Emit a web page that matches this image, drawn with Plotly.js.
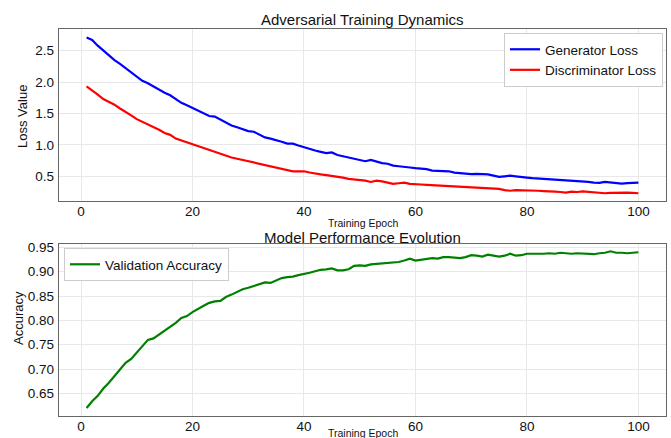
<!DOCTYPE html>
<html>
<head>
<meta charset="utf-8">
<script src="https://cdn.plot.ly/plotly-3.0.1.min.js"></script>
<style>html,body{margin:0;padding:0;background:#fff;}#chart{width:671px;height:438px;}</style>
</head>
<body>
<div id="chart"></div>
<script>
const epochs = Array.from({length: 100}, (_, i) => i + 1);

const generatorLoss = [
  2.71, 2.67, 2.58, 2.50, 2.43, 2.35, 2.29, 2.22, 2.15, 2.09,
  2.02, 1.98, 1.93, 1.87, 1.83, 1.79, 1.73, 1.67, 1.63, 1.59,
  1.54, 1.50, 1.46, 1.45, 1.40, 1.35, 1.31, 1.28, 1.25, 1.22,
  1.21, 1.16, 1.12, 1.10, 1.08, 1.05, 1.02, 1.02, 0.99, 0.96,
  0.93, 0.91, 0.89, 0.87, 0.88, 0.84, 0.82, 0.80, 0.78, 0.77,
  0.74, 0.76, 0.73, 0.71, 0.70, 0.67, 0.66, 0.655, 0.64, 0.63,
  0.62, 0.615, 0.59, 0.59, 0.585, 0.58, 0.56, 0.55, 0.545, 0.535,
  0.54, 0.535, 0.53, 0.51, 0.49, 0.50, 0.51, 0.50, 0.485, 0.48,
  0.47, 0.465, 0.45, 0.455, 0.45, 0.44, 0.43, 0.43, 0.42, 0.42,
  0.41, 0.40, 0.395, 0.41, 0.40, 0.39, 0.385, 0.39, 0.395, 0.40
];

const discriminatorLoss = [
  1.93, 1.87, 1.80, 1.73, 1.69, 1.64, 1.58, 1.53, 1.47, 1.41,
  1.37, 1.32, 1.28, 1.24, 1.19, 1.16, 1.10, 1.07, 1.04, 1.00,
  0.97, 0.95, 0.92, 0.89, 0.86, 0.83, 0.80, 0.78, 0.76, 0.74,
  0.72, 0.70, 0.68, 0.66, 0.65, 0.62, 0.61, 0.58, 0.58, 0.58,
  0.56, 0.54, 0.53, 0.52, 0.51, 0.49, 0.48, 0.46, 0.45, 0.45,
  0.43, 0.41, 0.43, 0.42, 0.40, 0.38, 0.39, 0.40, 0.38, 0.37,
  0.37, 0.365, 0.36, 0.355, 0.34, 0.335, 0.33, 0.325, 0.33, 0.325,
  0.32, 0.31, 0.30, 0.30, 0.30, 0.28, 0.27, 0.28, 0.28, 0.275,
  0.27, 0.27, 0.265, 0.265, 0.255, 0.25, 0.24, 0.255, 0.25, 0.26,
  0.25, 0.24, 0.23, 0.23, 0.235, 0.24, 0.245, 0.24, 0.235, 0.23
];

const validationAccuracy = [
  0.620, 0.634, 0.645, 0.660, 0.672, 0.686, 0.698, 0.713, 0.721, 0.734,
  0.746, 0.760, 0.763, 0.771, 0.780, 0.787, 0.795, 0.805, 0.809, 0.817,
  0.824, 0.830, 0.836, 0.839, 0.840, 0.848, 0.853, 0.858, 0.864, 0.867,
  0.871, 0.874, 0.878, 0.877, 0.882, 0.887, 0.889, 0.890, 0.893, 0.895,
  0.898, 0.901, 0.904, 0.905, 0.907, 0.903, 0.903, 0.905, 0.912, 0.913,
  0.912, 0.915, 0.916, 0.917, 0.918, 0.919, 0.920, 0.923, 0.927, 0.923,
  0.925, 0.927, 0.928, 0.927, 0.930, 0.930, 0.929, 0.928, 0.930, 0.934,
  0.933, 0.931, 0.935, 0.933, 0.931, 0.933, 0.937, 0.933, 0.934, 0.937,
  0.937, 0.936, 0.937, 0.938, 0.937, 0.939, 0.938, 0.937, 0.938, 0.937,
  0.936, 0.936, 0.938, 0.939, 0.942, 0.939, 0.939, 0.938, 0.939, 0.940
];

const xTicks = [0, 20, 40, 60, 80, 100];

const FONT = 'Liberation Sans, Arial, sans-serif';

const traces = [
  {x: epochs, y: generatorLoss, type: 'scatter', mode: 'lines', name: 'Generator Loss',
   line: {color: '#0000ff', width: 2.2}, xaxis: 'x', yaxis: 'y', legend: 'legend'},
  {x: epochs, y: discriminatorLoss, type: 'scatter', mode: 'lines', name: 'Discriminator Loss',
   line: {color: '#ff0000', width: 2.2}, xaxis: 'x', yaxis: 'y', legend: 'legend'},
  {x: epochs, y: validationAccuracy, type: 'scatter', mode: 'lines', name: 'Validation Accuracy',
   line: {color: '#008000', width: 2.2}, xaxis: 'x2', yaxis: 'y2', legend: 'legend2'}
];

const axisCommon = {
  showline: true, mirror: true, linecolor: '#666', linewidth: 1.3,
  showgrid: true, gridcolor: '#e8e8e8', gridwidth: 1,
  zeroline: false, ticks: '',
  tickfont: {family: FONT, size: 13.5, color: '#111'}
};
const xAxisCommon = Object.assign({}, axisCommon, {ticklabelstandoff: -3});
const yAxisCommon = Object.assign({}, axisCommon, {ticklabelstandoff: 1});

const L = 59, R = 666, T = 29, B = 416;
const px = v => (v - L) / (R - L);
const py = v => (B - v) / (B - T);

const layout = {
  width: 671, height: 438,
  margin: {l: L, r: 671 - R, t: T, b: 438 - B, pad: 0},
  paper_bgcolor: '#fff', plot_bgcolor: '#fff',
  font: {family: FONT, color: '#111'},
  showlegend: true,
  xaxis: Object.assign({}, xAxisCommon, {domain: [0, 1], anchor: 'y', range: [-3.95, 104.95],
    tickvals: xTicks}),
  yaxis: Object.assign({}, yAxisCommon, {domain: [py(201), 1], anchor: 'x', range: [0.107, 2.845],
    dtick: 0.5, tick0: 0, tickformat: '.1f'}),
  xaxis2: Object.assign({}, xAxisCommon, {domain: [0, 1], anchor: 'y2', range: [-3.95, 104.95],
    tickvals: xTicks}),
  yaxis2: Object.assign({}, yAxisCommon, {domain: [0, py(244)], anchor: 'x2', range: [0.6036, 0.957],
    dtick: 0.05, tick0: 0, tickformat: '.2f'}),
  legend: {x: px(663), y: py(33), xanchor: 'right', yanchor: 'top',
    bgcolor: 'rgba(255,255,255,0.9)', bordercolor: '#cccccc', borderwidth: 1,
    font: {family: FONT, size: 13.5, color: '#111'}, itemwidth: 30, tracegroupgap: 0},
  legend2: {x: px(64), y: py(248), xanchor: 'left', yanchor: 'top',
    bgcolor: 'rgba(255,255,255,0.9)', bordercolor: '#cccccc', borderwidth: 1,
    font: {family: FONT, size: 13.5, color: '#111'}, itemwidth: 30},
  annotations: [
    {text: 'Adversarial Training Dynamics', xref: 'paper', yref: 'paper', x: px(362.5), y: py(20),
     xanchor: 'center', yanchor: 'middle', showarrow: false, font: {family: FONT, size: 15, color: '#111'}},
    {text: 'Training Epoch', xref: 'paper', yref: 'paper', x: px(363), y: py(222.5),
     xanchor: 'center', yanchor: 'middle', showarrow: false, font: {family: FONT, size: 10.5, color: '#111'}},
    {text: 'Loss Value', xref: 'paper', yref: 'paper', x: px(22), y: py(117), textangle: -90,
     xanchor: 'center', yanchor: 'middle', showarrow: false, font: {family: FONT, size: 13, color: '#111'}},
    {text: 'Model Performance Evolution', xref: 'paper', yref: 'paper', x: px(362.5), y: py(237.5),
     xanchor: 'center', yanchor: 'middle', showarrow: false, font: {family: FONT, size: 15, color: '#111'}},
    {text: 'Training Epoch', xref: 'paper', yref: 'paper', x: px(363), y: py(433),
     xanchor: 'center', yanchor: 'middle', showarrow: false, font: {family: FONT, size: 10.5, color: '#111'}},
    {text: 'Accuracy', xref: 'paper', yref: 'paper', x: px(18), y: py(318), textangle: -90,
     xanchor: 'center', yanchor: 'middle', showarrow: false, font: {family: FONT, size: 13, color: '#111'}}
  ]
};

Plotly.newPlot('chart', traces, layout, {displayModeBar: false, staticPlot: true});
</script>
</body>
</html>
